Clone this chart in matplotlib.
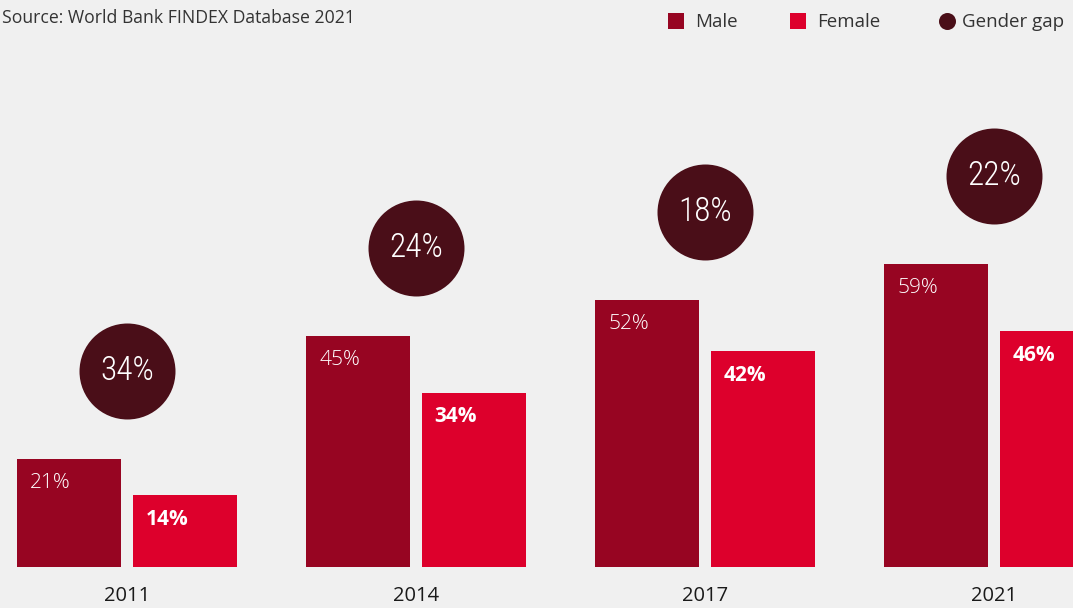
import matplotlib.pyplot as plt
import numpy as np

years = ["2011", "2014", "2017", "2021"]
male = [21, 45, 52, 59]
female = [14, 34, 42, 46]
gap = ["34%", "24%", "18%", "22%"]

c_male = "#970522"
c_female = "#DD002C"
c_gap = "#4A0E18"
bg = "#F0F0F0"

plt.rcParams["font.family"] = ["Open Sans", "DejaVu Sans"]

fig = plt.figure(figsize=(10.73, 6.08), dpi=100, facecolor=bg)
ax = fig.add_axes([0, 0, 1, 1], facecolor=bg)
ax.set_xlim(-0.439, 3.273)
ax.set_ylim(-8.0, 110.5)
ax.axis("off")

x = np.arange(len(years))
w = 0.36
off = 0.2
ax.bar(x - off, male, w, color=c_male)
ax.bar(x + off, female, w, color=c_female)

for i in range(len(years)):
    ax.text(x[i] - off - w / 2 + 0.045, male[i] - 2.7, f"{male[i]}%", color="white",
            fontsize=15, fontweight="light", ha="left", va="top")
    ax.text(x[i] + off - w / 2 + 0.045, female[i] - 2.7, f"{female[i]}%", color="white",
            fontsize=15, fontweight="bold", ha="left", va="top")
    ax.text(x[i], -7.6, years[i], ha="center", va="bottom", fontsize=14.5, color="#1a1a1a")

# gender gap bubbles above the male bars
gy = np.array(male) + 17.2
ax.scatter(x, gy, s=4777, color=c_gap, zorder=3, linewidths=0)
for i in range(len(years)):
    ax.text(x[i], gy[i], gap[i], ha="center", va="center", color="white", fontsize=24,
            family=["Roboto Condensed", "Liberation Sans Narrow", "DejaVu Sans"],
            fontstretch="condensed", fontweight="light", zorder=4)

# source + legend
fig.text(2 / 1073, 1 - 18 / 608, "Source: World Bank FINDEX Database 2021", ha="left",
         va="center", fontsize=12.7, color="#333333")
items = [("Male", "s", c_male, 676, 695), ("Female", "s", c_female, 798, 817),
         ("Gender gap", "o", c_gap, 947, 962)]
for lab, mk, col, mx, tx in items:
    ax.scatter([mx / 1073], [1 - 21 / 608], marker=mk, s=135 if mk == "s" else 150,
               color=col, transform=ax.transAxes, clip_on=False, linewidths=0)
    fig.text(tx / 1073, 1 - 22 / 608, lab, ha="left", va="center", fontsize=13.5, color="#333333")

fig.savefig("out.png", dpi=100, facecolor=bg)
